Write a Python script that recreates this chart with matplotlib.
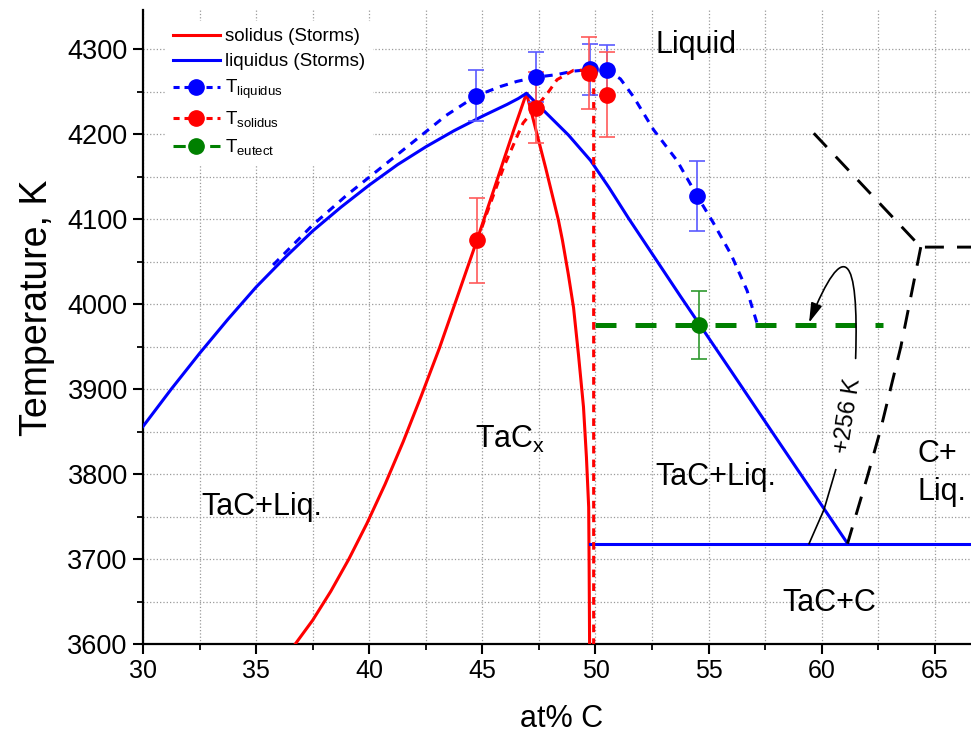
import matplotlib
matplotlib.use("Agg")
import matplotlib.pyplot as plt
from matplotlib.lines import Line2D
from matplotlib.patches import FancyArrowPatch
from matplotlib.path import Path
from matplotlib.ticker import MultipleLocator

plt.rcParams["font.family"] = ["Liberation Sans", "DejaVu Sans"]
plt.rcParams["mathtext.default"] = "regular"

# ----------------------------------------------------------------------
# Data (at% C, K)
# ----------------------------------------------------------------------

# Storms solidus (solid red)
solidus_x = [36.73, 37.5, 38.3, 39.1, 39.9, 40.7, 41.5, 42.3, 43.1, 43.9, 44.76,
             45.5, 46.39, 46.95,
             47.26, 47.8, 48.36, 48.54, 48.8, 49.03, 49.25, 49.47, 49.6, 49.70, 49.72, 49.74]
solidus_T = [3600, 3628, 3662, 3700, 3742, 3788, 3838, 3892, 3948, 4009, 4075,
             4134, 4205, 4248,
             4216, 4160, 4099, 4075, 4035, 3996, 3940, 3879, 3820, 3761, 3690, 3600]

# Storms liquidus (solid blue)
liquidus_x = [30.0, 31.25, 32.5, 33.75, 35.0, 36.25, 37.5, 38.75, 40.0, 41.25, 42.5,
              43.75, 45.0, 46.1, 46.6, 46.95,
              47.7, 48.8, 49.78, 50.6, 51.46, 53.76, 56.0, 58.2, 61.15]
liquidus_T = [3856, 3900, 3942, 3982, 4020, 4054, 4086, 4114, 4140, 4164, 4185,
              4204, 4221, 4235, 4242, 4248,
              4228, 4199, 4169, 4137, 4101, 4009, 3921, 3834, 3718]

# Storms eutectic line TaC + C
eutectic_x = [49.74, 66.6]
eutectic_T = [3718, 3718]

# Measured liquidus (dashed blue guide line + points)
tliq_line_x = [35.75, 37.5, 39.0, 40.5, 42.0, 43.4, 44.73, 45.8, 46.53, 47.39, 48.3,
               49.0, 49.78, 50.49, 51.1, 51.68, 52.57, 53.6, 54.5, 55.2, 56.0, 56.7, 57.17]
tliq_line_T = [4046, 4093, 4128, 4160, 4192, 4222, 4245, 4256, 4262, 4267, 4270,
               4274, 4276, 4275, 4265, 4244, 4205, 4169, 4127, 4096, 4058, 4016, 3975]
tliq_x = [44.73, 47.39, 49.78, 50.49, 54.5]
tliq_T = [4245, 4267, 4276, 4275, 4127]
tliq_err = [30, 29, 30, 30, 41]

# Measured solidus (dashed red guide line + points)
tsol_line_x = [44.78, 45.2, 45.94, 46.53, 46.8, 47.35, 47.88, 48.3, 49.03, 49.6, 49.92, 49.92]
tsol_line_T = [4075, 4107, 4161, 4197, 4213, 4231, 4248, 4264, 4275, 4275, 4266, 3600]
tsol_x = [44.78, 47.35, 49.73, 50.49]
tsol_T = [4075, 4231, 4272, 4246]
tsol_err = [50, 42, 42, 50]

# Measured eutectic
teut_line_x = [50.0, 62.7]
teut_line_T = [3975, 3975]
teut_x = [54.56]
teut_T = [3975]
teut_err = [40]

# Black dashed boundaries (C side)
cside_a_x = [59.65, 64.38, 66.7]
cside_a_T = [4201, 4067, 4067]
cside_b_x = [64.38, 63.5, 62.6, 62.02, 61.14]
cside_b_T = [4067, 3950, 3852, 3797, 3718]

# "+256 K" annotation: arrow (cubic Bezier) and leader line
arrow_x = [61.50, 61.65, 61.00, 59.44]
arrow_T = [3936, 4060, 4080, 3978]
leader_x = [60.62, 60.10, 59.44]
leader_T = [3805, 3758, 3718]

# ----------------------------------------------------------------------
# Figure
# ----------------------------------------------------------------------
fig = plt.figure(figsize=(9.71, 7.41), dpi=100)
ax = fig.add_axes([0.1473, 0.1309, 0.8527, 0.8556])

ax.set_xlim(30, 66.6)
ax.set_ylim(3600, 4346)
ax.xaxis.set_major_locator(MultipleLocator(5))
ax.xaxis.set_minor_locator(MultipleLocator(2.5))
ax.yaxis.set_major_locator(MultipleLocator(100))
ax.yaxis.set_minor_locator(MultipleLocator(50))
ax.set_axisbelow(True)
ax.grid(which="both", ls=":", color="#9a9a9a", lw=0.9)

for side in ("top", "right"):
    ax.spines[side].set_visible(False)
for side in ("left", "bottom"):
    ax.spines[side].set_linewidth(1.6)
ax.tick_params(which="major", direction="out", length=7, width=1.5, pad=4)
ax.tick_params(which="minor", direction="out", length=4, width=1.3)
ax.tick_params(axis="x", labelsize=18)
ax.tick_params(axis="y", labelsize=19.5)

# Storms curves
ax.plot(solidus_x, solidus_T, color="red", lw=2.2, zorder=3)
ax.plot(liquidus_x, liquidus_T, color="blue", lw=2.2, zorder=3)
ax.plot(eutectic_x, eutectic_T, color="blue", lw=2.2, zorder=3)

# black dashed C-side lines
ax.plot(cside_a_x, cside_a_T, color="black", lw=2.1, dashes=(6.5, 4.5), zorder=3)
ax.plot(cside_b_x, cside_b_T, color="black", lw=2.1, dashes=(6.5, 4.5), zorder=3)

# measured guide lines
ax.plot(tliq_line_x, tliq_line_T, color="blue", lw=2.2, dashes=(2.7, 2.3), zorder=3)
ax.plot(tsol_line_x, tsol_line_T, color="red", lw=2.2, dashes=(2.5, 2.0), zorder=3)
ax.plot(teut_line_x, teut_line_T, color="green", lw=3.6, dashes=(4.2, 3.8), zorder=3)

# measured points with error bars
eb = dict(fmt="o", ms=11, elinewidth=1.2, capsize=6, capthick=1.2, zorder=4)
ax.errorbar(tliq_x, tliq_T, yerr=tliq_err, color="blue", ecolor="#5a5aff", **eb)
ax.errorbar(tsol_x, tsol_T, yerr=tsol_err, color="red", ecolor="#ff5a5a", **eb)
ax.errorbar(teut_x, teut_T, yerr=teut_err, color="green", ecolor="#2f9a2f", **eb)

# +256 K annotation
codes = [Path.MOVETO, Path.CURVE4, Path.CURVE4, Path.CURVE4]
arrow = FancyArrowPatch(path=Path(list(zip(arrow_x, arrow_T)), codes),
                        arrowstyle="-|>,head_length=1.2,head_width=0.35",
                        mutation_scale=10, color="black", lw=1.2, zorder=5)
ax.add_patch(arrow)
ax.plot(leader_x, leader_T, color="black", lw=1.2, zorder=5)
ax.text(61.17, 3869, "+256 K", fontsize=17, rotation=81, ha="center", va="center",
        zorder=5, bbox=dict(facecolor="white", edgecolor="none", pad=1))

# region labels
lab = dict(fontsize=22, ha="left", va="baseline", zorder=5)
ax.text(52.65, 4295, "Liquid", **lab)
ax.text(32.6, 3752, "TaC+Liq.", **lab)
ax.text(44.69, 3831, "TaC$_x$", **lab)
ax.text(52.65, 3787, "TaC+Liq.", **lab)
ax.text(58.26, 3639, "TaC+C", **lab)
ax.text(64.23, 3814, "C+", **lab)
ax.text(64.23, 3769, "Liq.", **lab)

ax.set_xlabel("at% C", fontsize=22)
ax.set_ylabel("Temperature, K", fontsize=27)
ax.xaxis.set_label_coords(0.505, -0.095)
ax.yaxis.set_label_coords(-0.106, 0.53)

# legend
handles = [
    Line2D([], [], color="red", lw=2.2),
    Line2D([], [], color="blue", lw=2.2),
    Line2D([], [], color="blue", lw=2.2, dashes=(2.0, 1.6), marker="o", ms=11),
    Line2D([], [], color="red", lw=2.2, dashes=(2.0, 1.6), marker="o", ms=11),
    Line2D([], [], color="green", lw=2.2, dashes=(4.0, 2.0), marker="o", ms=11),
]
labels = ["solidus (Storms)", "liquidus (Storms)", "T$_{liquidus}$",
          "T$_{solidus}$", "T$_{eutect}$"]
leg = ax.legend(handles, labels, loc="upper left", bbox_to_anchor=(0.02, 0.992),
                fontsize=13.5, frameon=True, facecolor="white", edgecolor="none",
                framealpha=1, handlelength=2.5, handletextpad=0.3, labelspacing=0.42,
                borderpad=0.4, borderaxespad=0.3)
leg.set_zorder(6)

fig.savefig("out.png", dpi=100)
